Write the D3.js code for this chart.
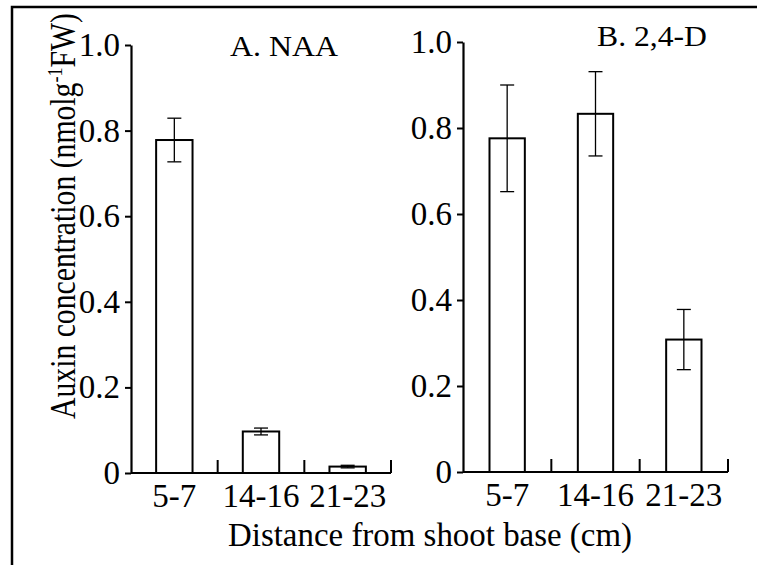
<!DOCTYPE html>
<html>
<head>
<meta charset="utf-8">
<script src="https://cdn.jsdelivr.net/npm/d3@7"></script>
<style>
  body { margin: 0; background: #fff; }
  text { font-family: "Liberation Serif", "Times New Roman", serif; fill: #000; }
</style>
</head>
<body>
<div id="chart"></div>
<script>
var svgWidth = 757;
var svgHeight = 565;

// data
var categories = ["5-7", "14-16", "21-23"];
var naaValues = [0.778, 0.097, 0.015];
var naaErrors = [0.051, 0.008, 0.003];
var dValues = [0.776, 0.833, 0.308];
var dErrors = [0.124, 0.098, 0.070];
var yTicks = [0, 0.2, 0.4, 0.6, 0.8, 1.0];
var yTickLabels = ["0", "0.2", "0.4", "0.6", "0.8", "1.0"];

var serif = "'Liberation Serif', 'Times New Roman', serif";

var svg = d3.select("#chart")
  .append("svg")
  .attr("width", svgWidth)
  .attr("height", svgHeight);

// outer frame (top + left only)
svg.append("path")
  .attr("d", "M12,565 L12,7 L757,7")
  .attr("fill", "none")
  .attr("stroke", "#000")
  .attr("stroke-width", 2.5);

var panels = [
  { title: "A. NAA", values: naaValues, errors: naaErrors,
    x0: 131, x1: 391, yTop: 45, yBottom: 473, barFrac: 0.42, titleX: 230, titleY: 56, titleW: 108 },
  { title: "B. 2,4-D", values: dValues, errors: dErrors,
    x0: 463, x1: 728, yTop: 42, yBottom: 472, barFrac: 0.40, titleX: 597, titleY: 46, titleW: 110 }
];

panels.forEach(function(p) {
  var x = d3.scaleBand()
    .domain(categories)
    .range([p.x0, p.x1])
    .padding(0);
  var y = d3.scaleLinear()
    .domain([0, 1])
    .range([p.yBottom, p.yTop]);

  var g = svg.append("g");

  // y axis
  var leftAxis = d3.axisLeft(y)
    .tickValues(yTicks)
    .tickFormat(function(d, i) { return yTickLabels[i]; })
    .tickSize(6)
    .tickSizeOuter(0)
    .tickPadding(5);
  var yAxis = g.append("g")
    .attr("transform", `translate(${p.x0}, 0)`)
    .call(leftAxis)
    .attr("font-family", serif);
  yAxis.select(".domain").attr("stroke-width", 2.2);
  yAxis.selectAll(".tick line").attr("stroke-width", 2);
  yAxis.selectAll(".tick text")
    .style("font-size", "33px")
    .style("font-family", serif)
    .attr("fill", "#000");

  // bars
  var bw = x.bandwidth() * p.barFrac;
  g.selectAll("rect.bar")
    .data(p.values)
    .enter()
    .append("rect")
    .attr("class", "bar")
    .attr("x", (d, i) => x(categories[i]) + (x.bandwidth() - bw) / 2)
    .attr("y", d => y(d))
    .attr("width", bw)
    .attr("height", d => y(0) - y(d))
    .attr("fill", "#fff")
    .attr("stroke", "#000")
    .attr("stroke-width", 2);

  // error bars
  var cap = 7;
  var eg = g.selectAll("g.err")
    .data(p.values)
    .enter()
    .append("g")
    .attr("class", "err")
    .attr("transform", (d, i) => `translate(${x(categories[i]) + x.bandwidth() / 2}, 0)`);
  eg.append("line")
    .attr("y1", (d, i) => y(d + p.errors[i]))
    .attr("y2", (d, i) => y(d - p.errors[i]));
  eg.append("line")
    .attr("x1", -cap).attr("x2", cap)
    .attr("y1", (d, i) => y(d + p.errors[i]))
    .attr("y2", (d, i) => y(d + p.errors[i]));
  eg.append("line")
    .attr("x1", -cap).attr("x2", cap)
    .attr("y1", (d, i) => y(d - p.errors[i]))
    .attr("y2", (d, i) => y(d - p.errors[i]));
  eg.selectAll("line")
    .attr("stroke", "#000")
    .attr("stroke-width", 1.3);

  // x axis, with inward ticks on band boundaries
  g.append("line")
    .attr("x1", p.x0).attr("x2", p.x1)
    .attr("y1", y(0)).attr("y2", y(0))
    .attr("stroke", "#000")
    .attr("stroke-width", 2.2);
  g.selectAll("line.xtick")
    .data(categories)
    .enter()
    .append("line")
    .attr("class", "xtick")
    .attr("x1", d => x(d) + x.bandwidth())
    .attr("x2", d => x(d) + x.bandwidth())
    .attr("y1", y(0))
    .attr("y2", y(0) - 13)
    .attr("stroke", "#000")
    .attr("stroke-width", 2);
  g.selectAll("text.xlab")
    .data(categories)
    .enter()
    .append("text")
    .attr("class", "xlab")
    .attr("x", d => x(d) + x.bandwidth() / 2)
    .attr("y", y(0) + 34)
    .attr("text-anchor", "middle")
    .style("font-family", serif)
    .style("font-size", "33px")
    .text(d => d);

  // panel title
  g.append("text")
    .attr("x", p.titleX)
    .attr("y", p.titleY)
    .style("font-family", serif)
    .style("font-size", "30px")
    .attr("textLength", p.titleW)
    .attr("lengthAdjust", "spacingAndGlyphs")
    .text(p.title);
});

// x axis title
svg.append("text")
  .attr("x", 228)
  .attr("y", 546)
  .style("font-family", serif)
  .style("font-size", "33px")
  .attr("textLength", 404)
  .attr("lengthAdjust", "spacingAndGlyphs")
  .text("Distance from shoot base (cm)");

// y axis title
var yTitle = svg.append("text")
  .attr("transform", "translate(75, 419) rotate(-90)")
  .attr("x", 0)
  .attr("y", 0)
  .style("font-family", serif)
  .style("font-size", "36px")
  .attr("textLength", 406)
  .attr("lengthAdjust", "spacingAndGlyphs");
yTitle.append("tspan").text("Auxin concentration (nmolg");
yTitle.append("tspan").attr("dy", -13).style("font-size", "22px").text("-1");
yTitle.append("tspan").attr("dy", 13).text("FW)");
</script>
</body>
</html>
